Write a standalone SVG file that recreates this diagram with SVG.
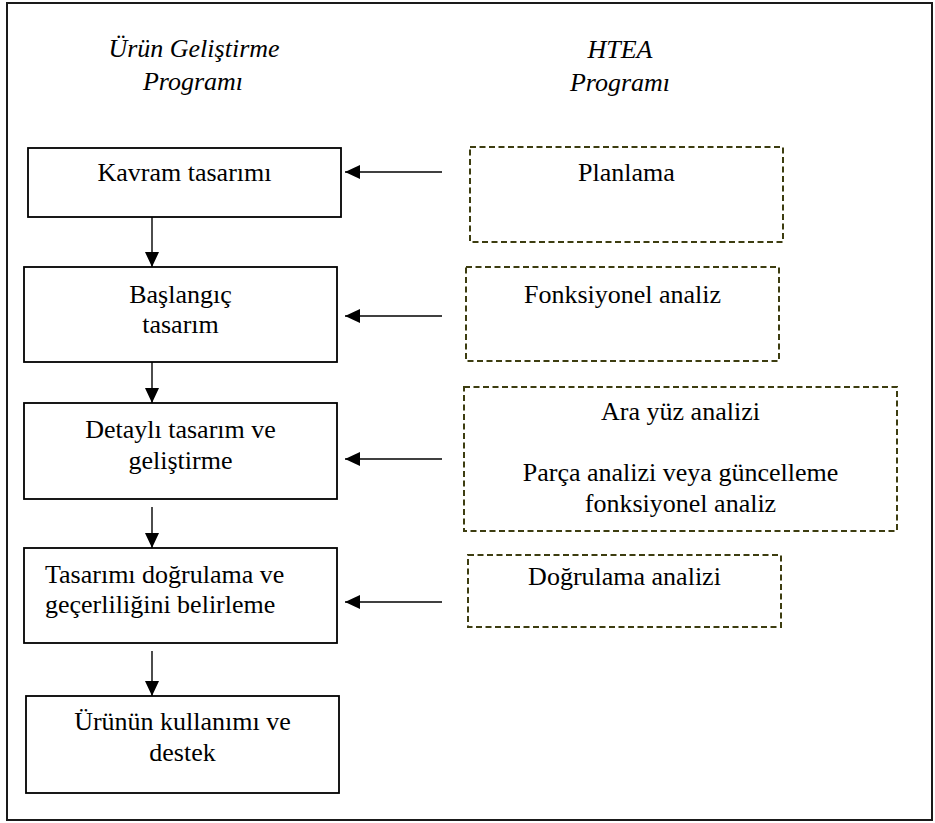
<svg xmlns="http://www.w3.org/2000/svg" width="935" height="823" viewBox="0 0 935 823">
  <style>
    .frame { fill: none; stroke: #1a1a1a; stroke-width: 2; }
    .box { fill: #ffffff; stroke: #000000; stroke-width: 1.8; }
    .dbox { fill: #ffffff; stroke: #3d3d10; stroke-width: 2; stroke-dasharray: 6 3.5; }
    .lbl { font-family: 'Liberation Serif', 'DejaVu Serif', serif; font-size: 26px; fill: #000000; text-anchor: middle; }
    .left { text-anchor: start; }
    .head { font-style: italic; }
    .conn { fill: none; stroke: #000000; stroke-width: 1.4; }
  </style>
  <defs>
    <marker id="arrow" markerUnits="userSpaceOnUse" markerWidth="15" markerHeight="14" refX="15" refY="7" orient="auto">
      <path d="M0,0 L15,7 L0,14 Z" fill="#000000"/>
    </marker>
  </defs>

  <rect class="frame" x="7" y="3" width="925" height="817"/>

  <g font-family="Liberation Serif, serif">
    <!-- column headings -->
    <g id="heading-left">
      <text class="lbl head" x="194" y="57">Ürün Geliştirme</text>
      <text class="lbl head" x="193" y="90">Programı</text>
    </g>
    <g id="heading-right">
      <text class="lbl head" x="620" y="58">HTEA</text>
      <text class="lbl head" x="620" y="91">Programı</text>
    </g>

    <!-- product development stages -->
    <g id="kavram">
      <rect class="box" x="28" y="148" width="313" height="69"/>
      <text class="lbl" x="184.5" y="181">Kavram tasarımı</text>
    </g>
    <g id="baslangic">
      <rect class="box" x="24" y="267" width="313" height="95"/>
      <text class="lbl" x="180.5" y="303">Başlangıç</text>
      <text class="lbl" x="180.5" y="333">tasarım</text>
    </g>
    <g id="detayli">
      <rect class="box" x="24" y="403" width="313" height="96"/>
      <text class="lbl" x="180.5" y="438">Detaylı tasarım ve</text>
      <text class="lbl" x="180.5" y="469">geliştirme</text>
    </g>
    <g id="dogrulama">
      <rect class="box" x="24" y="548" width="313" height="95"/>
      <text class="lbl left" x="45" y="583">Tasarımı doğrulama ve</text>
      <text class="lbl left" x="45" y="613">geçerliliğini belirleme</text>
    </g>
    <g id="urun">
      <rect class="box" x="26" y="696" width="313" height="97"/>
      <text class="lbl" x="182.5" y="730">Ürünün kullanımı ve</text>
      <text class="lbl" x="182.5" y="761">destek</text>
    </g>

    <!-- HTEA analyses -->
    <g id="planlama">
      <rect class="dbox" x="470" y="147" width="313" height="95"/>
      <text class="lbl" x="626.5" y="181">Planlama</text>
    </g>
    <g id="fonksiyonel">
      <rect class="dbox" x="466" y="267" width="313" height="94"/>
      <text class="lbl" x="622.5" y="303">Fonksiyonel analiz</text>
    </g>
    <g id="arayuz">
      <rect class="dbox" x="464" y="387" width="433" height="144"/>
      <text class="lbl" x="680.5" y="420">Ara yüz analizi</text>
      <text class="lbl" x="680.5" y="481">Parça analizi veya güncelleme</text>
      <text class="lbl" x="680.5" y="512">fonksiyonel analiz</text>
    </g>
    <g id="dogrulama-analizi">
      <rect class="dbox" x="468" y="555" width="313" height="72"/>
      <text class="lbl" x="624.5" y="585">Doğrulama analizi</text>
    </g>
  </g>

  <!-- connectors -->
  <g id="connectors">
    <line class="conn" x1="152" y1="217" x2="152" y2="267" marker-end="url(#arrow)"/>
    <line class="conn" x1="152" y1="362" x2="152" y2="403" marker-end="url(#arrow)"/>
    <line class="conn" x1="152" y1="507" x2="152" y2="548" marker-end="url(#arrow)"/>
    <line class="conn" x1="152" y1="651" x2="152" y2="696" marker-end="url(#arrow)"/>
    <line class="conn" x1="442" y1="172" x2="345" y2="172" marker-end="url(#arrow)"/>
    <line class="conn" x1="442" y1="316" x2="345" y2="316" marker-end="url(#arrow)"/>
    <line class="conn" x1="442" y1="459" x2="345" y2="459" marker-end="url(#arrow)"/>
    <line class="conn" x1="442" y1="602" x2="345" y2="602" marker-end="url(#arrow)"/>
  </g>
</svg>
